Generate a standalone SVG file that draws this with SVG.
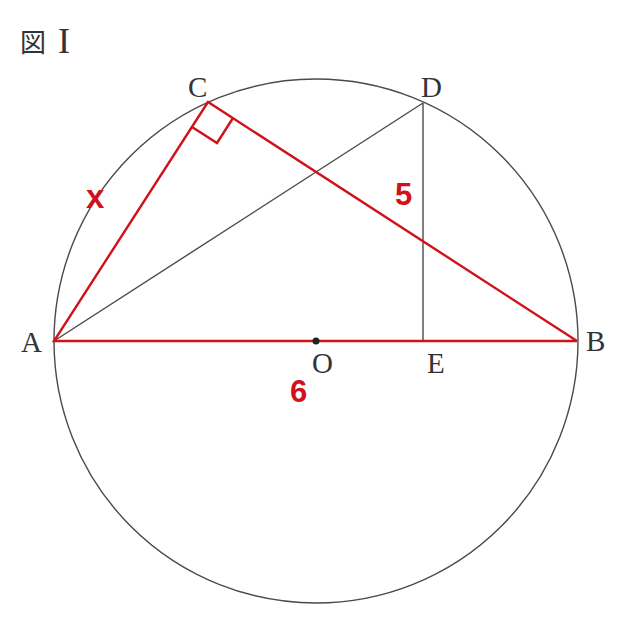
<svg xmlns="http://www.w3.org/2000/svg" width="640" height="623" viewBox="0 0 640 623">
<style>
.g{fill:none;stroke:#4a4a4a;stroke-width:1.4}
.r{fill:none;stroke:#d0121b;stroke-width:2.4;stroke-linejoin:miter}
.lb{font-family:"Liberation Serif","Noto Sans CJK JP",serif;font-size:29px;fill:#333}
.rl{font-family:"Liberation Sans",Arial,sans-serif;font-weight:bold;font-size:31px;fill:#d0121b}
</style>
<rect width="640" height="623" fill="#fff"/>
<text class="lb" x="20" y="52" style="font-size:26px">図 <tspan x="58" y="53" style="font-size:36px">I</tspan></text>
<g id="circle"><circle class="g" cx="316" cy="341" r="262"/></g>
<g id="connectors">
<line class="g" x1="54" y1="341" x2="423" y2="103"/>
<line class="g" x1="423" y1="103" x2="423" y2="341"/>
<polyline class="r" points="577,341 208,102 54,341 577,341"/>
<polyline class="r" points="192,127 217,143 233,118"/>
</g>
<g id="O"><circle cx="316" cy="341" r="3.5" fill="#222"/><text class="lb" x="312" y="373">O</text></g>
<g id="A"><text class="lb" x="21" y="352">A</text></g>
<g id="B"><text class="lb" x="586" y="351">B</text></g>
<g id="C"><text class="lb" x="188" y="97">C</text></g>
<g id="D"><text class="lb" x="421" y="97">D</text></g>
<g id="E"><text class="lb" x="427" y="373">E</text></g>
<g id="labels">
<text class="rl" x="86" y="208" style="font-size:33px">x</text>
<text class="rl" x="395" y="205">5</text>
<text class="rl" x="290" y="402">6</text>
</g>
</svg>
